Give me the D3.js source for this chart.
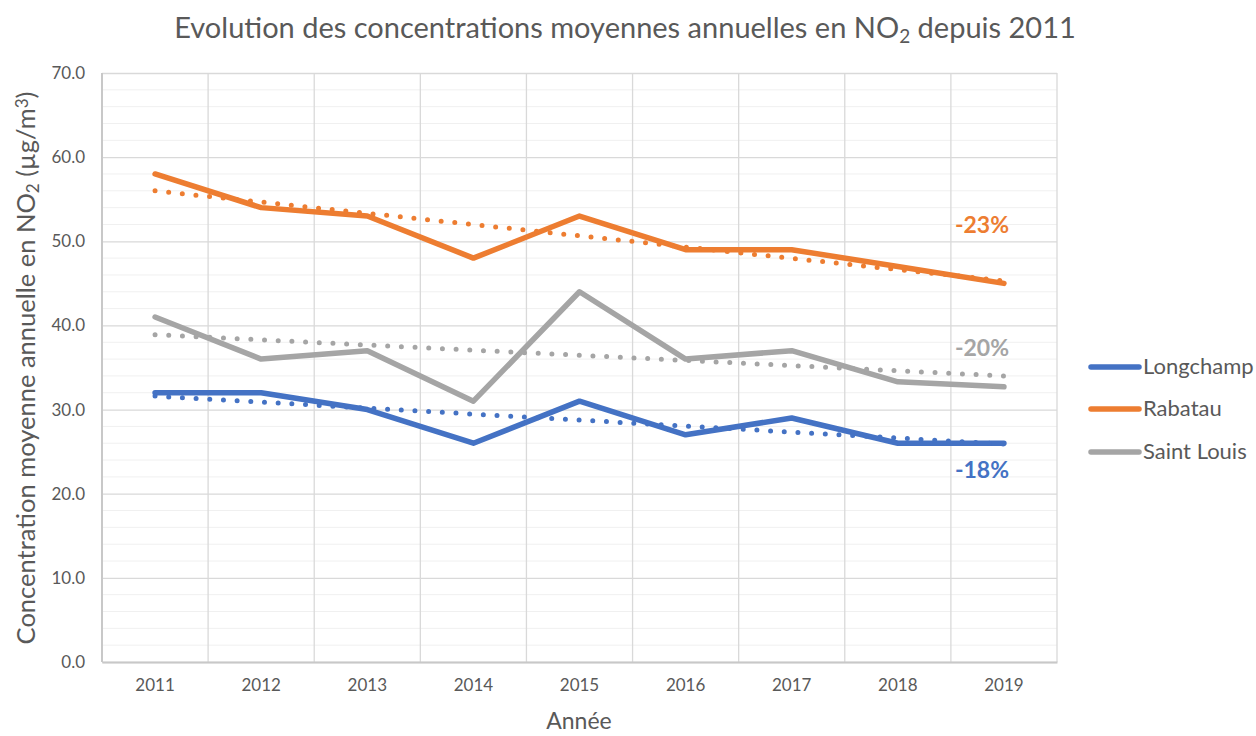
<!DOCTYPE html>
<html>
<head>
<meta charset="utf-8">
<script src="https://cdn.jsdelivr.net/npm/d3@7"></script>
<style>
    body { margin: 0; background: #fff; }
    text { font-family: Lato, "Open Sans", sans-serif; fill: #595959; }
</style>
</head>
<body>
<svg id="chart" width="1256" height="736"></svg>
<script>
// data
var years = ['2011', '2012', '2013', '2014', '2015', '2016', '2017', '2018', '2019'];
var seriesNames = ['Longchamp', 'Rabatau', 'Saint Louis'];
var longchamp = [32, 32, 30, 26, 31, 27, 29, 26, 26];
var rabatau = [58, 54, 53, 48, 53, 49, 49, 47, 45];
var saintLouis = [41, 36, 37, 31, 44, 36, 37, 33.3, 32.7];
// linear trend lines, value at 2011 and at 2019
var trendStart = [31.6, 56.0, 38.9];
var trendEnd = [25.9, 45.3, 34.0];
var changeLabels = ['-18%', '-23%', '-20%'];
var yTicks = [0, 10, 20, 30, 40, 50, 60, 70];

var colors = ['#4472C4', '#ED7D31', '#A5A5A5'];
var values = [longchamp, rabatau, saintLouis];

var svg = d3.select('#chart');
var plotLeft = 102, plotRight = 1057, plotTop = 73, plotBottom = 662;

var x = d3.scaleBand().domain(years).range([plotLeft, plotRight]).padding(0);
var y = d3.scaleLinear().domain([0, 70]).range([plotBottom, plotTop]);
function cx(yr) { return x(yr) + x.bandwidth() / 2; }

// minor gridlines every 2
svg.append('g')
    .selectAll('line')
    .data(d3.range(0, 71, 2).filter(function(v) { return v % 10 !== 0; }))
    .enter().append('line')
    .attr('x1', plotLeft).attr('x2', plotRight)
    .attr('y1', function(d) { return y(d); })
    .attr('y2', function(d) { return y(d); })
    .attr('stroke', '#f0f0f0').attr('stroke-width', 1);

// major gridlines + labels
var yAxis = svg.append('g')
    .attr('transform', 'translate(' + plotLeft + ',0)')
    .call(d3.axisLeft(y).tickValues(yTicks).tickSize(-(plotRight - plotLeft)).tickPadding(17)
        .tickFormat(d3.format('.1f')));
yAxis.select('.domain').remove();
yAxis.selectAll('line').attr('stroke', '#d9d9d9').attr('stroke-width', 1.3);
yAxis.selectAll('text').style('font-size', '17px').style('fill', '#595959')
    .style('font-family', 'Lato, sans-serif');

// vertical gridlines at band edges
svg.append('g')
    .selectAll('line')
    .data(years.concat(['end']))
    .enter().append('line')
    .attr('x1', function(d) { return d === 'end' ? plotRight : x(d); })
    .attr('x2', function(d) { return d === 'end' ? plotRight : x(d); })
    .attr('y1', plotTop).attr('y2', plotBottom)
    .attr('stroke', '#d9d9d9').attr('stroke-width', 1.3);

// axis lines
svg.append('line').attr('x1', plotLeft).attr('x2', plotLeft).attr('y1', plotTop).attr('y2', plotBottom)
    .attr('stroke', '#c8c8c8').attr('stroke-width', 2);
var xAxis = svg.append('g')
    .attr('transform', 'translate(0,' + plotBottom + ')')
    .call(d3.axisBottom(x).tickSize(0).tickPadding(17));
xAxis.select('.domain').attr('stroke', '#c8c8c8').attr('stroke-width', 2);
xAxis.selectAll('text').style('font-size', '17px').style('fill', '#595959')
    .style('font-family', 'Lato, sans-serif');

// series lines
var line = d3.line()
    .x(function(d, i) { return cx(years[i]); })
    .y(function(d) { return y(d); });

seriesNames.forEach(function(name, k) {
    svg.append('path')
        .datum(values[k])
        .attr('d', line)
        .attr('fill', 'none')
        .attr('stroke', colors[k])
        .attr('stroke-width', 5.5)
        .attr('stroke-linejoin', 'round')
        .attr('stroke-linecap', 'round');
});

// dotted trend lines
seriesNames.forEach(function(name, k) {
    svg.append('line')
        .attr('x1', cx(years[0])).attr('y1', y(trendStart[k]))
        .attr('x2', cx(years[years.length - 1])).attr('y2', y(trendEnd[k]))
        .attr('stroke', colors[k])
        .attr('stroke-width', 5)
        .attr('stroke-linecap', 'round')
        .attr('stroke-dasharray', '0 13.7');
});

// percent change labels
var labelY = [478, 233, 356];
seriesNames.forEach(function(name, k) {
    svg.append('text')
        .attr('x', 1009).attr('y', labelY[k])
        .attr('text-anchor', 'end')
        .style('font-size', '23px').style('font-weight', 'bold')
        .style('fill', colors[k])
        .text(changeLabels[k]);
});

// title
var title = svg.append('text')
    .attr('x', 625).attr('y', 38)
    .attr('text-anchor', 'middle')
    .style('font-size', '29px');
title.append('tspan').text('Evolution des concentrations moyennes annuelles en NO');
title.append('tspan').text('2').style('font-size', '19px').attr('baseline-shift', '-25%');
title.append('tspan').text(' depuis 2011');

// y axis title
var yTitle = svg.append('text')
    .attr('transform', 'translate(35,368) rotate(-90)')
    .attr('text-anchor', 'middle')
    .style('font-size', '25.5px');
yTitle.append('tspan').text('Concentration moyenne annuelle en NO');
yTitle.append('tspan').text('2').style('font-size', '17px').attr('baseline-shift', '-25%');
yTitle.append('tspan').text(' (µg/m');
yTitle.append('tspan').text('3').style('font-size', '17px').attr('baseline-shift', '40%');
yTitle.append('tspan').text(')');

// x axis title
svg.append('text')
    .attr('x', 579).attr('y', 729)
    .attr('text-anchor', 'middle')
    .style('font-size', '23px')
    .text('Année');

// legend
var legendY = [367, 409, 452];
var legend = svg.append('g');
seriesNames.forEach(function(name, k) {
    legend.append('line')
        .attr('x1', 1091).attr('x2', 1139)
        .attr('y1', legendY[k]).attr('y2', legendY[k])
        .attr('stroke', colors[k]).attr('stroke-width', 5.5)
        .attr('stroke-linecap', 'round');
    legend.append('text')
        .attr('x', 1143).attr('y', legendY[k] + 7)
        .style('font-size', '22px')
        .text(name);
});
</script>
</body>
</html>
